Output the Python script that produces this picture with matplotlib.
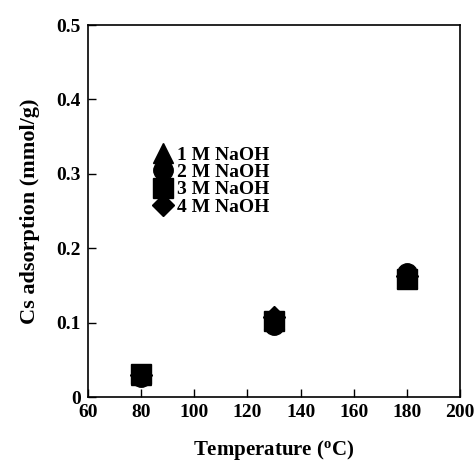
import numpy as np
import matplotlib
matplotlib.use('Agg')
import matplotlib.pyplot as plt

plt.rcParams['font.family'] = 'Liberation Serif'
plt.rcParams['font.weight'] = 'bold'
plt.rcParams['mathtext.fontset'] = 'custom'
plt.rcParams['mathtext.rm'] = 'Liberation Serif:bold'
plt.rcParams['mathtext.it'] = 'Liberation Serif:bold'

temps = [80, 130, 180]
naoh_1M = [0.030, 0.105, 0.160]
naoh_2M = [0.027, 0.097, 0.167]
naoh_3M = [0.031, 0.102, 0.158]
naoh_4M = [0.030, 0.108, 0.162]

labels = ['1 M NaOH', '2 M NaOH', '3 M NaOH', '4 M NaOH']
markers = ['^', 'o', 's', 'D']
sizes = [14, 14, 14, 11]

fig = plt.figure(figsize=(4.75, 4.61), dpi=100)
ax = fig.add_axes([88/475, 1-397/461, 372/475, 372/461])

for y, lab, m, s in zip([naoh_1M, naoh_2M, naoh_3M, naoh_4M], labels, markers, sizes):
    ax.plot(temps, y, linestyle='none', marker=m, color='black', markersize=s, label=lab)

ax.set_xlim(60, 200)
ax.set_ylim(0, 0.5)
ax.set_xticks(np.arange(60, 201, 20))
ax.set_yticks([0, 0.1, 0.2, 0.3, 0.4, 0.5])
ax.set_yticklabels(['0', '0.1', '0.2', '0.3', '0.4', '0.5'])
ax.tick_params(direction='in', length=6, width=1, labelsize=14, pad=5)
for sp in ax.spines.values():
    sp.set_linewidth(1.2)

ax.set_xlabel(r'Temperature ($^{\mathrm{o}}$C)', fontsize=15, fontweight='bold', labelpad=12)
ax.set_ylabel('Cs adsorption (mmol/g)', fontsize=16, fontweight='bold', labelpad=12)

leg = ax.legend(loc='upper left', bbox_to_anchor=(0.15, 0.70), frameon=False,
                fontsize=14, handletextpad=0.2, labelspacing=-0.02,
                handlelength=1.0, markerscale=1.0, borderpad=0)

fig.savefig('out.png', dpi=100)
